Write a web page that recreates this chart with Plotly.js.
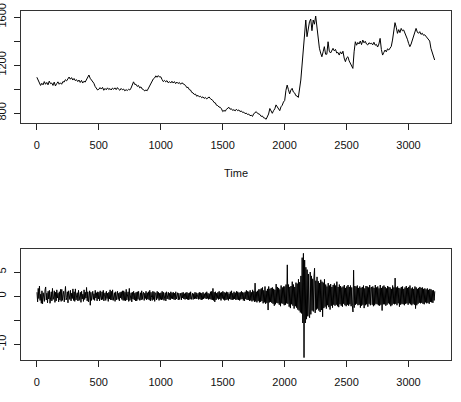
<!DOCTYPE html>
<html>
<head>
<meta charset="utf-8">
<script src="https://cdn.plot.ly/plotly-3.0.1.min.js"></script>
<style>html,body{margin:0;padding:0;background:#fff;}#chart{width:461px;height:402px;}</style>
</head>
<body>
<div id="chart"></div>
<script>
// Level series sampled every 10 time units from time 1; differences every 5 units from time 2
const levelStart = 1;
const levelStep = 10;
const diffStart = 2;
const diffStep = 5;

const priceLevel = [
  1098,1075,1060,1030,1048,1035,1062,1040,1055,1035,
  1066,1045,1050,1030,1058,1026,1045,1060,1040,1052,
  1040,1062,1058,1078,1068,1085,1100,1082,1095,1075,
  1088,1070,1078,1062,1075,1055,1072,1050,1065,1058,
  1075,1098,1117,1090,1078,1058,1048,1022,1010,992,
  998,1012,1000,1014,990,1005,994,1010,996,1004,
  992,1008,998,1010,995,1012,998,990,1005,994,
  1000,985,995,988,998,992,1008,1045,1060,1038,
  1040,1022,1030,1010,1018,1000,996,984,992,986,
  1005,1020,1045,1070,1085,1092,1110,1098,1112,1100,
  1102,1080,1062,1072,1060,1070,1052,1062,1050,1065,
  1050,1062,1045,1058,1046,1055,1040,1052,1044,1038,
  1030,1012,1015,995,992,972,968,955,958,940,
  948,935,940,928,935,922,930,918,928,934,
  920,912,905,888,885,865,862,850,848,835,
  812,822,815,832,838,848,832,836,822,828,
  818,832,820,826,812,818,805,808,795,800,
  788,792,778,782,772,795,802,812,798,790,
  788,772,776,760,758,748,765,792,838,815,
  798,820,835,868,848,838,820,852,865,892,
  905,990,1033,995,960,992,1006,975,968,945,
  942,930,1000,1075,1200,1330,1480,1575,1436,1510,
  1560,1583,1486,1575,1540,1608,1500,1420,1340,1300,
  1269,1310,1353,1290,1290,1394,1315,1300,1320,1339,
  1318,1330,1300,1305,1283,1310,1292,1315,1258,1228,
  1260,1269,1235,1215,1195,1172,1310,1394,1365,1388,
  1375,1400,1370,1408,1385,1398,1375,1367,1385,1378,
  1382,1368,1390,1365,1372,1350,1375,1422,1330,1283,
  1305,1325,1310,1335,1325,1345,1355,1408,1470,1553,
  1515,1464,1495,1470,1505,1485,1492,1470,1436,1415,
  1380,1353,1375,1408,1445,1480,1505,1475,1464,1478,
  1455,1465,1448,1452,1440,1432,1418,1400,1339,1310,
  1275,1242
];

const priceDiff = [
  0.8,-1.2,1.6,-0.5,2.1,-0.9,0.4,-1.5,1.1,-1.6,0.7,-0.3,-1.1,1.3,1.9,-0.8,0.6,-1.4,1.0,-0.6,
  1.2,-1.5,0.5,0.9,-1.0,1.6,-0.7,-0.2,1.1,-1.3,0.8,-1.0,1.3,-0.4,0.6,-1.2,0.9,-0.8,1.4,-1.1,
  1.4,-0.9,0.3,1.0,-1.2,0.7,2.0,-0.8,-0.3,0.9,-1.4,1.1,0.4,-0.7,1.2,-1.0,0.6,-0.5,1.5,-0.9,
  0.9,-1.1,1.5,-0.8,0.2,0.7,-1.0,1.2,-0.9,0.5,0.8,-1.3,1.0,-0.6,0.4,-1.1,1.3,-0.7,0.8,-0.4,
  1.8,-1.0,0.9,-1.2,0.3,1.1,-1.9,0.8,-0.9,0.6,1.0,-0.7,0.5,-0.9,1.2,-0.4,0.7,-1.0,0.9,-0.6,
  0.8,-1.0,1.1,-0.3,-0.8,0.9,-0.7,1.2,-1.0,0.4,0.7,-0.9,1.0,-0.5,0.6,-1.1,0.8,-0.6,1.3,-0.8,
  1.0,-0.8,1.3,-0.9,0.2,0.7,-1.1,0.9,-0.8,0.5,1.0,-0.7,0.6,-1.0,0.8,-0.4,0.9,-0.7,1.1,-0.9,
  1.1,-0.9,0.8,-1.0,1.4,-0.8,0.3,0.9,-1.1,1.6,-0.9,0.5,0.7,-1.2,0.8,-0.6,1.0,-0.8,0.6,-1.0,
  0.8,-1.0,0.9,-0.7,1.0,-0.4,-0.9,0.7,-0.8,1.1,-0.7,0.5,0.8,-0.9,0.6,-0.5,1.0,-0.8,0.7,-0.6,
  0.9,-0.8,1.2,-1.0,0.8,-0.3,-0.9,1.0,-0.7,0.9,-1.1,0.6,0.7,-0.8,1.0,-0.5,0.8,-0.9,0.6,-0.7,
  0.7,-0.8,1.0,-0.7,0.8,-0.9,0.4,0.7,-1.0,0.9,-0.6,0.5,0.8,-0.7,0.6,-0.8,0.9,-0.5,0.7,-0.6,
  0.8,-0.7,0.6,-0.8,0.9,-0.6,0.3,0.7,-0.8,0.6,-0.7,0.5,0.6,-0.8,0.7,-0.4,0.8,-0.6,0.5,-0.7,
  0.7,-0.6,0.8,-0.7,0.6,-0.8,0.7,-0.6,0.9,-0.7,0.4,0.6,-0.7,0.5,-0.6,0.8,-0.5,0.7,-0.6,0.5,
  0.6,-0.7,0.8,-0.6,0.7,-0.8,0.6,-0.7,0.8,-0.6,0.5,-0.4,0.7,-0.6,0.9,-0.5,0.6,-0.7,0.5,-0.6,
  0.9,-0.7,1.0,-0.8,1.6,-0.9,0.8,-1.2,0.9,-0.8,0.6,-0.5,0.8,-0.7,1.0,-0.6,0.7,-0.9,0.8,-0.5,
  1.0,-0.7,0.8,-0.9,0.7,-0.8,0.9,-0.7,0.8,-0.9,0.5,-0.6,0.9,-0.7,1.1,-0.8,0.6,-0.7,0.9,-0.6,
  0.7,-0.8,1.0,-0.7,0.9,-0.8,0.7,-0.9,0.8,-0.7,1.0,-0.6,0.8,-0.9,0.7,-1.0,0.9,-0.6,1.2,-0.8,
  1.0,-0.8,0.9,-1.0,1.2,-0.9,0.8,-1.1,1.3,-0.9,1.0,-1.2,2.7,-1.1,0.9,-1.3,1.1,-1.0,1.4,-1.3,
  1.4,-1.2,1.6,-1.0,1.8,-1.5,1.2,-1.3,2.0,-1.6,1.1,-1.4,1.5,-2.9,2.0,-1.3,1.5,-1.2,1.7,-1.4,
  1.8,-1.6,1.5,-2.0,1.3,-1.7,2.5,-1.4,1.9,-1.5,1.7,-1.8,1.4,-2.1,2.2,-1.5,1.8,-1.6,2.0,-1.9,
  2.0,-1.8,2.4,-1.5,6.5,-1.6,2.4,-2.2,1.9,-2.5,2.1,-1.7,3.0,-2.0,2.4,-2.6,1.9,-2.1,2.8,-2.4,
  2.6,-2.8,3.5,-3.0,2.9,-3.4,4.2,-3.6,8.0,-5.6,8.9,-12.8,7.5,-5.6,6.0,-4.8,5.5,-4.2,4.6,-3.9,
  -4.5,5.0,-3.8,4.2,-3.0,3.6,-3.2,4.0,5.8,-3.5,3.2,-2.8,4.0,-2.6,3.1,-3.0,2.7,-3.3,3.4,-2.9,
  3.0,-4.3,2.8,-2.5,3.5,-2.2,2.4,-2.6,2.0,-1.9,2.7,-2.3,2.2,-2.8,2.5,-2.0,1.9,-2.4,2.3,-1.8,
  2.6,-2.0,2.2,-1.8,3.0,-2.1,1.9,-2.3,2.4,-1.7,2.1,-2.0,1.8,-2.2,2.0,-1.6,2.3,-1.9,1.7,-2.1,
  2.0,-1.8,2.3,-2.0,1.9,-1.7,2.2,-2.1,1.8,-2.0,-3.3,5.4,-2.4,2.1,-1.8,2.0,-1.6,2.2,-1.9,1.7,
  -1.8,2.0,-2.4,1.7,-2.0,1.9,-1.8,2.2,-2.5,1.6,-1.9,2.1,-1.7,2.0,-2.2,1.8,-1.6,2.3,-1.9,1.7,
  1.9,-1.8,2.0,-2.1,1.7,-1.9,2.3,-1.6,1.8,-1.7,2.0,-1.9,1.6,-2.0,2.3,-1.8,1.7,-3.0,2.0,-1.7,
  2.2,-1.7,1.9,-2.0,1.6,-1.8,2.1,-1.5,1.9,-1.7,1.8,-2.1,1.5,-1.9,2.2,-1.6,1.8,-1.7,3.75,-1.6,
  1.8,-1.9,2.0,-1.5,1.7,-2.2,1.6,-1.8,1.9,-1.6,2.0,-1.7,1.5,-1.9,1.8,-1.6,2.1,-1.5,1.7,-1.8,
  1.9,-1.5,2.2,-1.7,1.6,-1.9,1.8,-1.6,1.5,-1.8,2.0,-2.6,1.8,-1.9,1.5,-1.6,1.7,-1.4,1.9,-1.5,
  1.7,-1.4,1.8,-1.6,1.5,-1.7,1.6,-1.3,1.4,-1.5,1.6,-1.4,1.3,-1.6,1.5,-1.2,1.4,-1.3,1.2,-1.4,
  1.2,-0.9,1.0
];

const xTickVals = [0, 500, 1000, 1500, 2000, 2500, 3000];
const levelTickVals = [800, 1000, 1200, 1400, 1600];
const levelTickText = ["800", "", "1200", "", "1600"];
const diffTickVals = [-10, -5, 0, 5];
const diffTickText = ["-10", "", "0", "5"];

const levelTime = priceLevel.map((_, i) => levelStart + i * levelStep);
const diffTime = priceDiff.map((_, i) => diffStart + i * diffStep);

const font = {family: "Liberation Sans, Arial, sans-serif", size: 11, color: "#111"};

const baseX = {
  range: [-127, 3343], tickvals: xTickVals, ticks: "outside", ticklen: 6,
  tickcolor: "#222", tickwidth: 1, showline: true, mirror: true, linecolor: "#333",
  linewidth: 1, showgrid: false, zeroline: false, tickfont: font, automargin: false,
  ticklabelstandoff: 6
};
const baseY = {
  ticks: "outside", ticklen: 6, tickcolor: "#222", tickwidth: 1, showline: true,
  mirror: true, linecolor: "#333", linewidth: 1, showgrid: false, zeroline: false,
  tickfont: font, tickangle: -90, automargin: false, ticklabelstandoff: 4
};

const traces = [
  {x: levelTime, y: priceLevel, type: "scatter", mode: "lines",
   line: {color: "#000", width: 1}, xaxis: "x", yaxis: "y", hoverinfo: "skip"},
  {x: diffTime, y: priceDiff, type: "scatter", mode: "lines",
   line: {color: "#000", width: 1}, xaxis: "x2", yaxis: "y2", hoverinfo: "skip"}
];

const layout = {
  width: 461, height: 402,
  margin: {l: 21, r: 10, t: 11, b: 42},
  paper_bgcolor: "#fff", plot_bgcolor: "#fff",
  showlegend: false,
  font: font,
  xaxis: Object.assign({}, baseX, {domain: [0, 1], anchor: "y",
    title: {text: "Time", font: font, standoff: 19}}),
  yaxis: Object.assign({}, baseY, {domain: [0.679, 1], anchor: "x",
    range: [717, 1650], tickvals: levelTickVals, ticktext: levelTickText}),
  xaxis2: Object.assign({}, baseX, {domain: [0, 1], anchor: "y2"}),
  yaxis2: Object.assign({}, baseY, {domain: [0, 0.318], anchor: "x2",
    range: [-13.3, 9.8], tickvals: diffTickVals, ticktext: diffTickText})
};

Plotly.newPlot("chart", traces, layout, {staticPlot: true, displayModeBar: false});
</script>
</body>
</html>
